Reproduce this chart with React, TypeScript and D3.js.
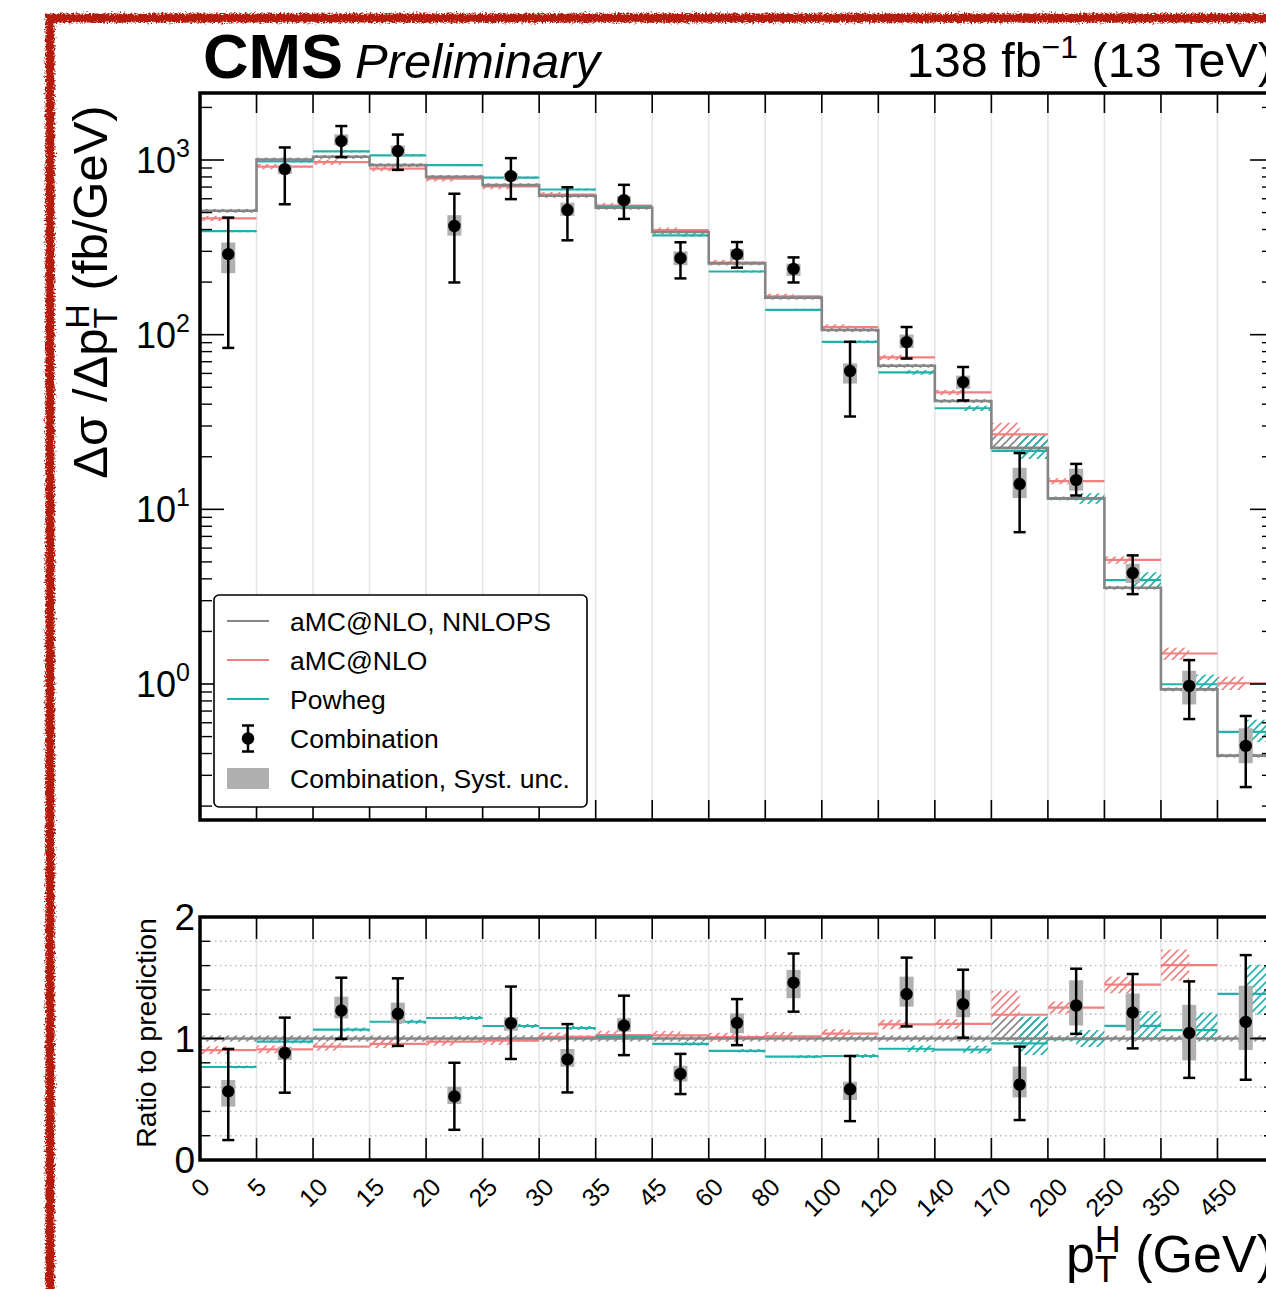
import React from "react";
import * as d3 from "d3";

// pT^H bin edges (GeV) and per-bin differential cross sections (fb/GeV)
const PT_EDGES = ["0", "5", "10", "15", "20", "25", "30", "35", "45", "60", "80", "100", "120", "140", "170", "200", "250", "350", "450", "∞"];

const NNLOPS = [512, 1007, 1043, 935, 801, 718, 624, 533, 387, 256, 163, 106.3, 66.4, 41.7, 22.5, 11.56, 3.56, 0.932, 0.389];
const AMCNLO = [463, 917, 973, 893, 781, 705, 633, 548, 397, 259, 166, 110.6, 74.1, 46.7, 26.9, 14.5, 5.14, 1.495, 1.01];
const POWHEG = [392, 981, 1120, 1064, 936, 792, 678, 541, 370, 230, 138.6, 91, 60.8, 37.9, 21.6, 11.5, 3.93, 0.997, 0.532];

// prediction uncertainty bands, as multiplicative factors of each prediction
const NNLOPS_BAND_LO = [0.975, 0.975, 0.975, 0.975, 0.975, 0.975, 0.975, 0.975, 0.975, 0.975, 0.975, 0.975, 0.975, 0.975, 0.98, 0.975, 0.975, 0.975, 0.975];
const NNLOPS_BAND_HI = [1.025, 1.025, 1.025, 1.025, 1.025, 1.025, 1.025, 1.025, 1.025, 1.025, 1.025, 1.025, 1.025, 1.025, 1.17, 1.025, 1.025, 1.025, 1.025];
const AMCNLO_BAND_LO = [0.965, 0.965, 0.965, 0.965, 0.965, 0.965, 0.965, 0.965, 0.965, 0.965, 0.965, 0.965, 0.965, 0.965, 0.97, 0.96, 0.95, 0.92, 0.915];
const AMCNLO_BAND_HI = [1.035, 1.035, 1.035, 1.035, 1.035, 1.035, 1.035, 1.035, 1.035, 1.035, 1.035, 1.035, 1.035, 1.035, 1.165, 1.04, 1.045, 1.08, 1.09];
const POWHEG_BAND_LO = [0.985, 0.985, 0.985, 0.985, 0.985, 0.985, 0.985, 0.985, 0.985, 0.985, 0.985, 0.98, 0.97, 0.965, 0.9, 0.935, 0.91, 0.92, 0.875];
const POWHEG_BAND_HI = [1.015, 1.015, 1.015, 1.015, 1.015, 1.015, 1.015, 1.015, 1.015, 1.015, 1.015, 1.02, 1.03, 1.035, 1.23, 1.075, 1.11, 1.135, 1.175];

// combined measurement: central value, total uncertainty and systematic-only interval
const COMB = [289, 887, 1283, 1125, 419, 809, 517, 589, 274, 289, 238, 61.9, 90.7, 53.5, 13.96, 14.7, 4.32, 0.974, 0.442];
const COMB_TOT_LO = [84, 558, 1039, 878, 199, 597, 347, 460, 210, 242, 199, 34, 73, 42, 7.4, 12.0, 3.27, 0.63, 0.257];
const COMB_TOT_HI = [468, 1180, 1565, 1398, 641, 1025, 698, 721, 338, 339, 277, 91, 110.6, 65.3, 21.0, 18.2, 5.45, 1.37, 0.656];
const COMB_SYST_LO = [225, 829, 1216, 1052, 369, 764, 479, 563, 250, 267, 217, 52.5, 83.8, 49.0, 11.6, 12.8, 3.79, 0.764, 0.352];
const COMB_SYST_HI = [337, 939, 1402, 1211, 483, 843, 570, 622, 300, 309, 255, 68.5, 100.2, 58.3, 17.3, 17.1, 4.88, 1.19, 0.558];

const MAIN_MAJOR_TICKS = [1, 10, 100, 1000];
const MAIN_TICK_EXP = ["0", "1", "2", "3"];
const RATIO_MAJOR_TICKS = [0, 1, 2];
const RATIO_GRID = [0.2, 0.4, 0.6, 0.8, 1.0, 1.2, 1.4, 1.6, 1.8];

const LEGEND_LABELS = ["aMC@NLO, NNLOPS", "aMC@NLO", "Powheg", "Combination", "Combination, Syst. unc."];

const FONT = "'Liberation Sans', Arial, Helvetica, sans-serif";
const W = 1266;
const H = 1289;
const LEFT = 200;
const RIGHT = 1274;
const MAIN = { top: 93, bottom: 820 };
const RATIO = { top: 917, bottom: 1160 };
const C_NNLOPS = "#858585";
const C_AMC = "#f08080";
const C_POW = "#20b2aa";
const C_SYST = "#b0b0b0";

function Hatch({ id, color }: { id: string; color: string }) {
  return (
    <pattern id={id} patternUnits="userSpaceOnUse" width={8} height={8}>
      <path d="M-2,2 l4,-4 M0,8 l8,-8 M6,10 l4,-4" stroke={color} strokeWidth={1.6} fill="none" />
    </pattern>
  );
}

export default function App() {
  const nBins = NNLOPS.length;
  const x = d3.scaleLinear().domain([0, nBins]).range([LEFT, RIGHT]);
  const yMain = d3.scaleLog().domain([0.1665, 2419]).range([MAIN.bottom, MAIN.top]);
  const yRatio = d3.scaleLinear().domain([0, 2]).range([RATIO.bottom, RATIO.top]);
  const bins = d3.range(nBins);

  const stepPts: [number, number][] = NNLOPS.map((v, i) => [i, v] as [number, number]).concat([[nBins, NNLOPS[nBins - 1]]]);
  const mainStep = d3
    .line<[number, number]>()
    .x((d) => x(d[0]))
    .y((d) => yMain(d[1]))
    .curve(d3.curveStepAfter)(stepPts) as string;

  // log-axis minor ticks
  const minor: number[] = [];
  for (let e = -1; e <= 3; e++) {
    for (let k = 2; k <= 9; k++) {
      const v = k * Math.pow(10, e);
      if (v > 0.1665 && v < 2419) minor.push(v);
    }
  }
  const ratioMinor = d3.range(1, 10).map((k) => k * 0.2).filter((v) => Math.abs(v - 1) > 1e-6);

  const preds = [
    { vals: AMCNLO, lo: AMCNLO_BAND_LO, hi: AMCNLO_BAND_HI, color: C_AMC, hatch: "url(#h-amc)", x0: 0, x1: 0.5 },
    { vals: POWHEG, lo: POWHEG_BAND_LO, hi: POWHEG_BAND_HI, color: C_POW, hatch: "url(#h-pow)", x0: 0.5, x1: 1 },
  ];

  const edgeTicks = d3.range(1, nBins);

  const dataMarks = (yS: (v: number) => number, norm: (i: number) => number) =>
    bins.map((i) => {
      const cx = x(i + 0.5);
      const n = norm(i);
      return (
        <g key={"d" + i}>
          <rect x={cx - 7} width={14} y={yS(COMB_SYST_HI[i] / n)} height={yS(COMB_SYST_LO[i] / n) - yS(COMB_SYST_HI[i] / n)} fill={C_SYST} />
          <line x1={cx} x2={cx} y1={yS(COMB_TOT_HI[i] / n)} y2={yS(COMB_TOT_LO[i] / n)} stroke="#000" strokeWidth={2.5} />
          <line x1={cx - 6} x2={cx + 6} y1={yS(COMB_TOT_HI[i] / n)} y2={yS(COMB_TOT_HI[i] / n)} stroke="#000" strokeWidth={2.5} />
          <line x1={cx - 6} x2={cx + 6} y1={yS(COMB_TOT_LO[i] / n)} y2={yS(COMB_TOT_LO[i] / n)} stroke="#000" strokeWidth={2.5} />
          <circle cx={cx} cy={yS(COMB[i] / n)} r={6.2} fill="#000" />
        </g>
      );
    });

  const legendRows = [621, 660, 699, 738.5, 778];

  return (
    <svg
      width={W}
      height={H}
      viewBox={`0 0 ${W} ${H}`}
      style={{ position: "absolute", left: 0, top: 0, background: "#fff", fontFamily: FONT }}
    >
      <defs>
        <Hatch id="h-nnlops" color={C_NNLOPS} />
        <Hatch id="h-amc" color={C_AMC} />
        <Hatch id="h-pow" color={C_POW} />
        <clipPath id="clip-main">
          <rect x={LEFT} y={MAIN.top} width={RIGHT - LEFT} height={MAIN.bottom - MAIN.top} />
        </clipPath>
        <clipPath id="clip-ratio">
          <rect x={LEFT} y={RATIO.top} width={RIGHT - LEFT} height={RATIO.bottom - RATIO.top} />
        </clipPath>
        <filter id="rough" x="-3%" y="-3%" width="106%" height="106%">
          <feTurbulence type="fractalNoise" baseFrequency="0.55" numOctaves={3} seed={7} result="noise" />
          <feDisplacementMap in="SourceGraphic" in2="noise" scale={7} xChannelSelector="R" yChannelSelector="G" />
        </filter>
      </defs>

      <rect x={0} y={0} width={W} height={H} fill="#fff" />

      {/* header */}
      <text x={203} y={78} fontSize={63} fontWeight="bold" fill="#000" textLength={140} lengthAdjust="spacingAndGlyphs">CMS</text>
      <text x={355} y={78} fontSize={49} fontStyle="italic" fill="#000">Preliminary</text>
      <text x={RIGHT} y={77} fontSize={48.5} textAnchor="end" fill="#000">
        138 fb
        <tspan fontSize={32} dy={-19}>−1</tspan>
        <tspan dy={19}> (13 TeV)</tspan>
      </text>

      {/* ===== main panel ===== */}
      <g>
        {edgeTicks.map((e) => (
          <line key={"vg" + e} x1={x(e)} x2={x(e)} y1={MAIN.top} y2={MAIN.bottom} stroke="#e4e4e4" strokeWidth={1.6} />
        ))}
        <g clipPath="url(#clip-main)">
          {bins.map((i) => (
            <rect
              key={"gb" + i}
              x={x(i)}
              width={x(i + 1) - x(i)}
              y={yMain(NNLOPS[i] * NNLOPS_BAND_HI[i])}
              height={yMain(NNLOPS[i] * NNLOPS_BAND_LO[i]) - yMain(NNLOPS[i] * NNLOPS_BAND_HI[i])}
              fill="url(#h-nnlops)"
            />
          ))}
          {preds.map((p, k) =>
            bins.map((i) => (
              <rect
                key={"pb" + k + "-" + i}
                x={x(i + p.x0)}
                width={x(i + p.x1) - x(i + p.x0)}
                y={yMain(p.vals[i] * p.hi[i])}
                height={yMain(p.vals[i] * p.lo[i]) - yMain(p.vals[i] * p.hi[i])}
                fill={p.hatch}
              />
            ))
          )}
          {preds.map((p, k) =>
            bins.map((i) => (
              <line key={"pl" + k + "-" + i} x1={x(i)} x2={x(i + 1)} y1={yMain(p.vals[i])} y2={yMain(p.vals[i])} stroke={p.color} strokeWidth={2.2} />
            ))
          )}
          <path d={mainStep} fill="none" stroke={C_NNLOPS} strokeWidth={2.6} />
          {dataMarks((v) => yMain(v), () => 1)}
        </g>

        {/* ticks */}
        {edgeTicks.map((e) => (
          <g key={"mt" + e}>
            <line x1={x(e)} x2={x(e)} y1={MAIN.top} y2={MAIN.top + 20} stroke="#000" strokeWidth={1.6} />
            <line x1={x(e)} x2={x(e)} y1={MAIN.bottom} y2={MAIN.bottom - 20} stroke="#000" strokeWidth={1.6} />
          </g>
        ))}
        {MAIN_MAJOR_TICKS.map((v) => (
          <g key={"my" + v}>
            <line x1={LEFT} x2={LEFT + 24} y1={yMain(v)} y2={yMain(v)} stroke="#000" strokeWidth={1.6} />
            <line x1={RIGHT} x2={RIGHT - 24} y1={yMain(v)} y2={yMain(v)} stroke="#000" strokeWidth={1.6} />
          </g>
        ))}
        {minor.map((v) => (
          <g key={"mm" + v}>
            <line x1={LEFT} x2={LEFT + 12} y1={yMain(v)} y2={yMain(v)} stroke="#000" strokeWidth={1.4} />
            <line x1={RIGHT} x2={RIGHT - 12} y1={yMain(v)} y2={yMain(v)} stroke="#000" strokeWidth={1.4} />
          </g>
        ))}
        <rect x={LEFT} y={MAIN.top} width={RIGHT - LEFT} height={MAIN.bottom - MAIN.top} fill="none" stroke="#000" strokeWidth={3.5} />

        {MAIN_MAJOR_TICKS.map((v, k) => (
          <text key={"myl" + v} x={190} y={yMain(v) + 13} fontSize={36} textAnchor="end" fill="#000">
            10
            <tspan fontSize={25} dy={-16}>{MAIN_TICK_EXP[k]}</tspan>
          </text>
        ))}

        <text transform={`translate(107, ${292}) rotate(-90)`} fontSize={49} textAnchor="middle" fill="#000">
          Δσ /Δp
          <tspan fontSize={34} dy={10}>T</tspan>
          <tspan fontSize={34} dx={-21} dy={-28}>H</tspan>
          <tspan dy={18}> (fb/GeV)</tspan>
        </text>

        {/* legend */}
        <g>
          <rect x={214} y={595} width={373} height={212} rx={5} fill="#fff" stroke="#000" strokeWidth={1.6} />
          <line x1={227} x2={269} y1={legendRows[0]} y2={legendRows[0]} stroke={C_NNLOPS} strokeWidth={2} />
          <line x1={227} x2={269} y1={legendRows[1]} y2={legendRows[1]} stroke={C_AMC} strokeWidth={2} />
          <line x1={227} x2={269} y1={legendRows[2]} y2={legendRows[2]} stroke={C_POW} strokeWidth={2} />
          <line x1={248} x2={248} y1={legendRows[3] - 13} y2={legendRows[3] + 13} stroke="#000" strokeWidth={2.5} />
          <line x1={242} x2={254} y1={legendRows[3] - 13} y2={legendRows[3] - 13} stroke="#000" strokeWidth={2.5} />
          <line x1={242} x2={254} y1={legendRows[3] + 13} y2={legendRows[3] + 13} stroke="#000" strokeWidth={2.5} />
          <circle cx={248} cy={legendRows[3]} r={6.2} fill="#000" />
          <rect x={227} y={legendRows[4] - 10} width={42} height={21} fill={C_SYST} />
          {LEGEND_LABELS.map((t, k) => (
            <text key={t} x={290} y={legendRows[k] + 9.5} fontSize={26.5} fill="#000">{t}</text>
          ))}
        </g>
      </g>

      {/* ===== ratio panel ===== */}
      <g>
        {edgeTicks.map((e) => (
          <line key={"rvg" + e} x1={x(e)} x2={x(e)} y1={RATIO.top} y2={RATIO.bottom} stroke="#e4e4e4" strokeWidth={1.6} />
        ))}
        {RATIO_GRID.map((v) => (
          <line key={"rg" + v} x1={LEFT} x2={RIGHT} y1={yRatio(v)} y2={yRatio(v)} stroke="#b8b8b8" strokeWidth={1.4} strokeDasharray="1.5 3.5" />
        ))}
        <g clipPath="url(#clip-ratio)">
          {bins.map((i) => (
            <rect
              key={"rgb" + i}
              x={x(i)}
              width={x(i + 1) - x(i)}
              y={yRatio(NNLOPS_BAND_HI[i])}
              height={yRatio(NNLOPS_BAND_LO[i]) - yRatio(NNLOPS_BAND_HI[i])}
              fill="url(#h-nnlops)"
            />
          ))}
          {preds.map((p, k) =>
            bins.map((i) => {
              const r = p.vals[i] / NNLOPS[i];
              return (
                <rect
                  key={"rpb" + k + "-" + i}
                  x={x(i + p.x0)}
                  width={x(i + p.x1) - x(i + p.x0)}
                  y={yRatio(r * p.hi[i])}
                  height={yRatio(r * p.lo[i]) - yRatio(r * p.hi[i])}
                  fill={p.hatch}
                />
              );
            })
          )}
          {preds.map((p, k) =>
            bins.map((i) => {
              const r = p.vals[i] / NNLOPS[i];
              return <line key={"rpl" + k + "-" + i} x1={x(i)} x2={x(i + 1)} y1={yRatio(r)} y2={yRatio(r)} stroke={p.color} strokeWidth={2.2} />;
            })
          )}
          <line x1={LEFT} x2={RIGHT} y1={yRatio(1)} y2={yRatio(1)} stroke={C_NNLOPS} strokeWidth={2.6} />
          {dataMarks((v) => yRatio(v), (i) => NNLOPS[i])}
        </g>

        {edgeTicks.map((e) => (
          <g key={"rt" + e}>
            <line x1={x(e)} x2={x(e)} y1={RATIO.top} y2={RATIO.top + 22} stroke="#000" strokeWidth={1.6} />
            <line x1={x(e)} x2={x(e)} y1={RATIO.bottom} y2={RATIO.bottom - 22} stroke="#000" strokeWidth={1.6} />
          </g>
        ))}
        {RATIO_MAJOR_TICKS.map((v) => (
          <g key={"ry" + v}>
            <line x1={LEFT} x2={LEFT + 24} y1={yRatio(v)} y2={yRatio(v)} stroke="#000" strokeWidth={1.6} />
            <line x1={RIGHT} x2={RIGHT - 24} y1={yRatio(v)} y2={yRatio(v)} stroke="#000" strokeWidth={1.6} />
          </g>
        ))}
        {ratioMinor.map((v) => (
          <g key={"rm" + v}>
            <line x1={LEFT} x2={LEFT + 10} y1={yRatio(v)} y2={yRatio(v)} stroke="#000" strokeWidth={1.4} />
            <line x1={RIGHT} x2={RIGHT - 10} y1={yRatio(v)} y2={yRatio(v)} stroke="#000" strokeWidth={1.4} />
          </g>
        ))}
        <rect x={LEFT} y={RATIO.top} width={RIGHT - LEFT} height={RATIO.bottom - RATIO.top} fill="none" stroke="#000" strokeWidth={3.5} />

        {RATIO_MAJOR_TICKS.map((v) => (
          <text key={"ryl" + v} x={195} y={yRatio(v) + 13} fontSize={37} textAnchor="end" fill="#000">{v}</text>
        ))}
        <text transform={`translate(156, 1033) rotate(-90)`} fontSize={28.5} textAnchor="middle" fill="#000">Ratio to prediction</text>

        {PT_EDGES.map((t, e) => {
          const fs = 25;
          const w = t.length * 0.556 * fs;
          const box = (w + 0.72 * fs) / Math.SQRT2;
          return (
            <text
              key={"xl" + e}
              transform={`translate(${x(e)}, ${1176 + box / 2}) rotate(-45)`}
              fontSize={fs}
              textAnchor="middle"
              dominantBaseline="central"
              fill="#000"
            >
              {t}
            </text>
          );
        })}

        <text x={RIGHT} y={1272} fontSize={52} textAnchor="end" fill="#000">
          p
          <tspan fontSize={36} dy={10}>T</tspan>
          <tspan fontSize={36} dx={-22} dy={-30}>H</tspan>
          <tspan dy={20}> (GeV)</tspan>
        </text>
      </g>

      {/* hand-drawn red frame */}
      <rect x={50} y={18} width={1300} height={1400} fill="none" stroke="#b51a0a" strokeWidth={9} filter="url(#rough)" />
    </svg>
  );
}
